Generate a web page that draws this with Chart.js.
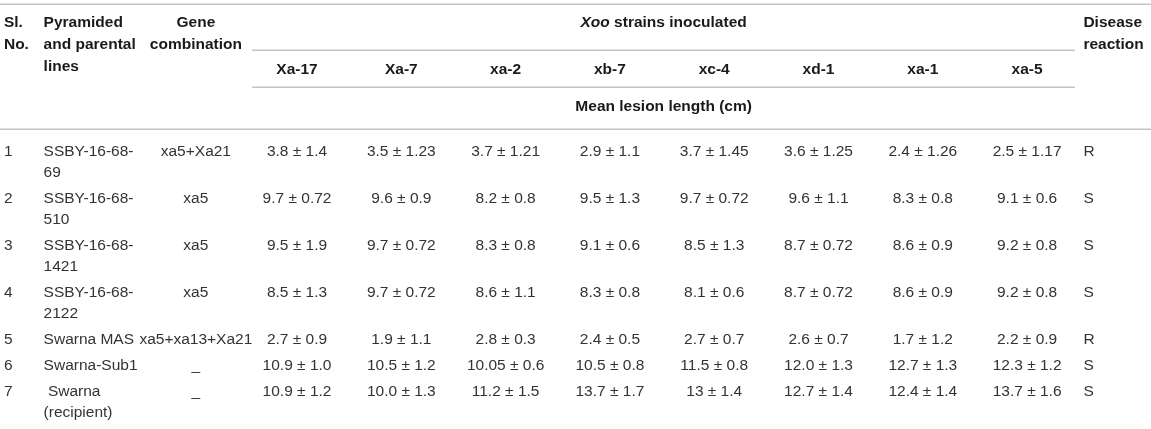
<!DOCTYPE html>
<html>
<head>
<meta charset="utf-8">
<script src="https://cdn.jsdelivr.net/npm/chart.js@4.4.1/dist/chart.umd.min.js"></script>
<style>
  html, body { margin: 0; padding: 0; background: #fff; }
  #tableChart { display: block; }
</style>
</head>
<body>
<canvas id="tableChart" width="1151" height="429"></canvas>
<script>
// Table data
const strains = ['Xa-17', 'Xa-7', 'xa-2', 'xb-7', 'xc-4', 'xd-1', 'xa-1', 'xa-5'];
const slNo = ['1', '2', '3', '4', '5', '6', '7'];
const lineNames = [
  ['SSBY-16-68-', '69'],
  ['SSBY-16-68-', '510'],
  ['SSBY-16-68-', '1421'],
  ['SSBY-16-68-', '2122'],
  ['Swarna MAS'],
  ['Swarna-Sub1'],
  [' Swarna', '(recipient)']
];
const genes = ['xa5+Xa21', 'xa5', 'xa5', 'xa5', 'xa5+xa13+Xa21', '_', '_'];
const lesionMean = [
  ['3.8', '3.5', '3.7', '2.9', '3.7', '3.6', '2.4', '2.5'],
  ['9.7', '9.6', '8.2', '9.5', '9.7', '9.6', '8.3', '9.1'],
  ['9.5', '9.7', '8.3', '9.1', '8.5', '8.7', '8.6', '9.2'],
  ['8.5', '9.7', '8.6', '8.3', '8.1', '8.7', '8.6', '9.2'],
  ['2.7', '1.9', '2.8', '2.4', '2.7', '2.6', '1.7', '2.2'],
  ['10.9', '10.5', '10.05', '10.5', '11.5', '12.0', '12.7', '12.3'],
  ['10.9', '10.0', '11.2', '13.7', '13', '12.7', '12.4', '13.7']
];
const lesionSd = [
  ['1.4', '1.23', '1.21', '1.1', '1.45', '1.25', '1.26', '1.17'],
  ['0.72', '0.9', '0.8', '1.3', '0.72', '1.1', '0.8', '0.6'],
  ['1.9', '0.72', '0.8', '0.6', '1.3', '0.72', '0.9', '0.8'],
  ['1.3', '0.72', '1.1', '0.8', '0.6', '0.72', '0.9', '0.8'],
  ['0.9', '1.1', '0.3', '0.5', '0.7', '0.7', '1.2', '0.9'],
  ['1.0', '1.2', '0.6', '0.8', '0.8', '1.3', '1.3', '1.2'],
  ['1.2', '1.3', '1.5', '1.7', '1.4', '1.4', '1.4', '1.6']
];
const reaction = ['R', 'S', 'S', 'S', 'R', 'S', 'S'];

// Header texts
const headSl = ['Sl.', 'No.'];
const headLines = ['Pyramided', 'and parental', 'lines'];
const headGene = ['Gene', 'combination'];
const headDisease = ['Disease', 'reaction'];
const headUnit = 'Mean lesion length (cm)';

// Layout (x in strain-column units, y in text-line units)
const COL = { sl: -2.81, name: -2.43, gene: -0.97, spanStart: -0.43, spanEnd: 7.46, disease: 7.54 };
const HEAD = { line1: -6.14, step: 1.03, strains: -3.9, unit: -2.14,
  ruleTop: -7.07, ruleSpan: -4.86, ruleStrain: -3.1, ruleHead: -1.1 };
const ROW_GAP = 0.238;

const FONT = '"Liberation Sans", Arial, Helvetica, sans-serif';
const SIZE = 15.5;
const TEXT_COLOR = '#333';
const HEAD_COLOR = '#1a1a1a';
const RULE_COLOR = '#c4c4c4';

// row start positions from number of text lines
const rowY = [];
let acc = 0;
lineNames.forEach(function(l) {
  rowY.push(acc);
  acc += l.length + ROW_GAP;
});

const cells = [];
lesionMean.forEach(function(row, r) {
  row.forEach(function(m, c) {
    cells.push({ x: c, y: rowY[r], label: m + ' \u00b1 ' + lesionSd[r][c] });
  });
});

const tablePlugin = {
  id: 'tableText',
  afterDatasetsDraw(chart) {
    const ctx = chart.ctx;
    const xs = chart.scales.x, ys = chart.scales.y;
    const area = chart.chartArea;
    const px = u => xs.getPixelForValue(u);
    const py = v => ys.getPixelForValue(v);

    ctx.save();
    ctx.strokeStyle = RULE_COLOR;
    ctx.lineWidth = 1.5;
    function rule(v, x0, x1) {
      const yy = Math.round(py(v)) + 0.25;
      ctx.beginPath();
      ctx.moveTo(x0, yy);
      ctx.lineTo(x1, yy);
      ctx.stroke();
    }
    rule(HEAD.ruleTop, area.left, area.right);
    rule(HEAD.ruleSpan, px(COL.spanStart), px(COL.spanEnd));
    rule(HEAD.ruleStrain, px(COL.spanStart), px(COL.spanEnd));
    rule(HEAD.ruleHead, area.left, area.right);

    ctx.textBaseline = 'middle';
    function text(s, u, v, align, bold, color) {
      ctx.font = (bold ? 'bold ' : '') + SIZE + 'px ' + FONT;
      ctx.fillStyle = color;
      ctx.textAlign = align;
      ctx.fillText(s, px(u), py(v));
    }

    // header
    headSl.forEach((s, i) => text(s, COL.sl, HEAD.line1 + i * HEAD.step, 'left', true, HEAD_COLOR));
    headLines.forEach((s, i) => text(s, COL.name, HEAD.line1 + i * HEAD.step, 'left', true, HEAD_COLOR));
    headGene.forEach((s, i) => text(s, COL.gene, HEAD.line1 + i * HEAD.step, 'center', true, HEAD_COLOR));
    headDisease.forEach((s, i) => text(s, COL.disease, HEAD.line1 + i * HEAD.step, 'left', true, HEAD_COLOR));
    strains.forEach((s, i) => text(s, i, HEAD.strains, 'center', true, HEAD_COLOR));
    text(headUnit, (COL.spanStart + COL.spanEnd) / 2, HEAD.unit, 'center', true, HEAD_COLOR);

    // "Xoo strains inoculated" with italic Xoo
    const italic = 'italic bold ' + SIZE + 'px ' + FONT;
    const bold = 'bold ' + SIZE + 'px ' + FONT;
    ctx.font = italic;
    const w1 = ctx.measureText('Xoo').width;
    ctx.font = bold;
    const w2 = ctx.measureText(' strains inoculated').width;
    const cx = px((COL.spanStart + COL.spanEnd) / 2);
    const x0 = cx - (w1 + w2) / 2;
    ctx.textAlign = 'left';
    ctx.fillStyle = HEAD_COLOR;
    ctx.font = italic;
    ctx.fillText('Xoo', x0, py(HEAD.line1));
    ctx.font = bold;
    ctx.fillText(' strains inoculated', x0 + w1, py(HEAD.line1));

    // body label columns
    rowY.forEach(function(v, r) {
      text(slNo[r], COL.sl, v, 'left', false, TEXT_COLOR);
      lineNames[r].forEach((s, j) => text(s, COL.name, v + j, 'left', false, TEXT_COLOR));
      text(genes[r], COL.gene, v, 'center', false, TEXT_COLOR);
      text(reaction[r], COL.disease, v, 'left', false, TEXT_COLOR);
    });

    // lesion cells, placed by the dataset points
    const meta = chart.getDatasetMeta(0);
    ctx.font = SIZE + 'px ' + FONT;
    ctx.fillStyle = TEXT_COLOR;
    ctx.textAlign = 'center';
    meta.data.forEach(function(el, i) {
      ctx.fillText(chart.data.datasets[0].data[i].label, el.x, el.y);
    });
    ctx.restore();
  }
};

const tableConfig = {
  type: 'scatter',
  data: {
    datasets: [{
      label: 'Mean lesion length (cm)',
      data: cells,
      pointRadius: 0,
      pointHoverRadius: 0
    }]
  },
  options: {
    responsive: false,
    animation: false,
    events: [],
    layout: { padding: 0 },
    plugins: { legend: { display: false }, tooltip: { enabled: false } },
    scales: {
      x: { type: 'linear', display: false, min: -2.848, max: 8.188 },
      y: { type: 'linear', display: false, reverse: true, min: -7.238, max: 13.19 }
    }
  },
  plugins: [tablePlugin]
};

var table_area = document.getElementById('tableChart');
var myTable = new Chart(table_area, tableConfig);
</script>
</body>
</html>
